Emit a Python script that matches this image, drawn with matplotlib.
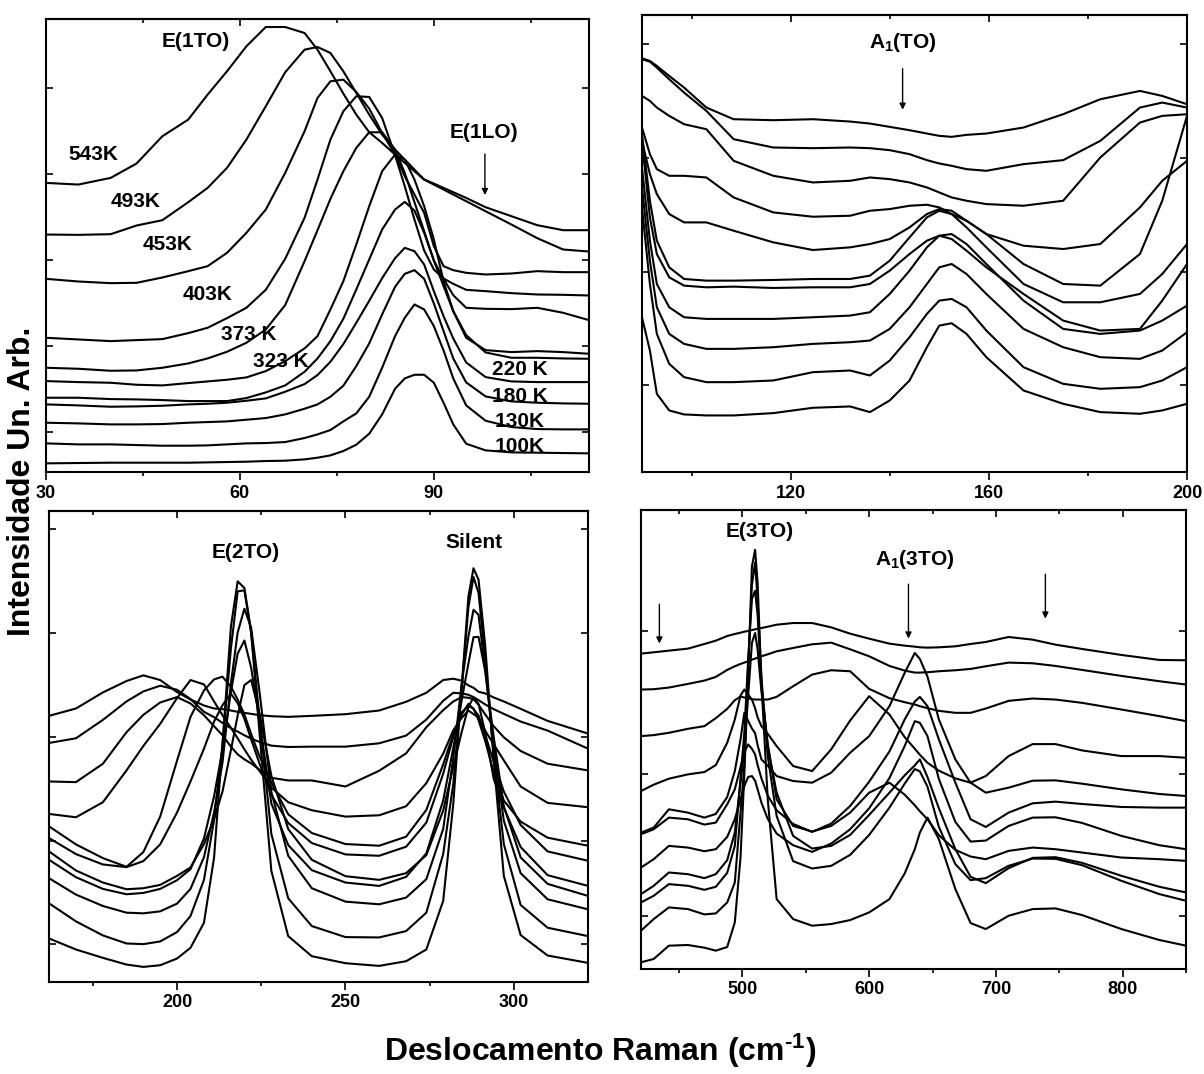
import matplotlib
matplotlib.use('Agg')
import matplotlib.pyplot as plt
from matplotlib.ticker import MultipleLocator, NullFormatter

# Raman shift grids (cm-1) and intensities (arb. units)
tl_shift = [30, 35, 40, 44, 48, 52, 55, 58, 61, 64, 67, 70, 72, 74, 76, 78, 80, 82, 84, 85.5,
            87, 88.5, 90, 91.5, 93, 95, 98, 102, 106, 110, 114]
tl_spectra = [
    [868, 863, 883, 926, 1008, 1058, 1133, 1203, 1278, 1336, 1336, 1318, 1268, 1203, 1136, 1073,
     1020, 988, 953, 928, 903, 878, 866, 853, 840, 823, 795, 768, 741, 726, 726],  # 543K
    [713, 712, 714, 740, 756, 810, 853, 913, 998, 1098, 1200, 1268, 1276, 1258, 1203, 1138,
     1073, 1013, 968, 938, 908, 878, 863, 848, 833, 813, 783, 743, 702, 668, 662],  # 493K
    [580, 572, 567, 568, 584, 603, 618, 658, 718, 788, 898, 1023, 1123, 1173, 1178, 1141,
     1091, 1018, 953, 888, 833, 778, 678, 618, 606, 598, 593, 596, 603, 600, 600],  # 453K
    [403, 398, 393, 396, 399, 417, 433, 462, 493, 547, 640, 763, 878, 998, 1083, 1128,
     1126, 1063, 951, 858, 758, 665, 608, 581, 565, 547, 543, 537, 533, 532, 530],  # 403K
    [313, 310, 304, 305, 313, 326, 341, 361, 388, 428, 501, 633, 726, 820, 903, 973,
     1020, 1020, 968, 898, 810, 723, 635, 580, 531, 493, 490, 489, 493, 478, 456],  # 373K
    [273, 270, 268, 262, 260, 267, 272, 277, 284, 303, 333, 371, 408, 488, 573, 683,
     798, 903, 953, 938, 878, 798, 698, 573, 483, 403, 366, 360, 363, 360, 355],  # 323K
    [223, 223, 219, 218, 216, 213, 213, 213, 222, 239, 260, 301, 341, 393, 460, 548,
     638, 728, 788, 811, 785, 718, 635, 558, 483, 411, 359, 343, 343, 341, 340],  # 220K
    [203, 200, 196, 197, 199, 203, 205, 208, 214, 221, 241, 264, 291, 331, 384, 448,
     514, 582, 642, 673, 663, 623, 543, 468, 401, 329, 285, 272, 270, 270, 270],  # 180K
    [148, 146, 143, 143, 144, 148, 150, 152, 157, 162, 173, 190, 203, 226, 259, 318,
     386, 473, 556, 595, 606, 580, 506, 423, 341, 269, 227, 212, 208, 206, 205],  # 130K
    [86, 83, 83, 81, 79, 79, 80, 83, 86, 87, 90, 102, 113, 126, 152, 176,
     226, 313, 408, 463, 503, 488, 438, 365, 281, 200, 154, 135, 129, 128, 128],  # 100K
    [26, 27, 28, 28, 28, 28, 29, 30, 31, 33, 34, 38, 43, 50, 63, 82,
     115, 173, 250, 281, 292, 292, 268, 208, 143, 85, 65, 59, 58, 57, 56],
]

tr_shift = [90, 91.6, 93, 95.5, 98.5, 103, 108.5, 116.5, 124.5, 132, 136, 140, 144, 147.5,
            150, 152.5, 155.5, 159.5, 167, 175, 182.5, 190.5, 195, 200]
tr_spectra = [
    [1243, 1235, 1220, 1190, 1155, 1095, 1060, 1057, 1060, 1053, 1047, 1037, 1027, 1017,
     1010, 1007, 1013, 1017, 1035, 1075, 1120, 1145, 1130, 1105],
    [1240, 1233, 1215, 1180, 1140, 1085, 1000, 975, 973, 975, 973, 967, 955, 937,
     927, 920, 910, 905, 925, 937, 995, 1095, 1110, 1095],
    [1130, 1115, 1095, 1070, 1045, 1030, 935, 890, 870, 875, 885, 880, 870, 855,
     840, 825, 815, 805, 800, 815, 945, 1050, 1070, 1075],
    [1035, 955, 910, 890, 890, 885, 825, 780, 767, 770, 785, 790, 800, 803,
     795, 775, 755, 715, 680, 670, 685, 795, 875, 935],
    [995, 895, 835, 775, 750, 750, 725, 690, 667, 675, 685, 700, 735, 775,
     790, 785, 755, 715, 625, 565, 560, 655, 815, 1070],
    [1015, 815, 695, 615, 580, 575, 575, 577, 580, 580, 590, 635, 705, 765,
     785, 775, 735, 675, 565, 510, 510, 535, 595, 685],
    [995, 765, 655, 585, 560, 555, 557, 553, 555, 555, 565, 605, 655, 695,
     710, 700, 665, 615, 535, 455, 425, 430, 515, 625],
    [915, 695, 565, 495, 465, 460, 460, 460, 465, 470, 480, 535, 605, 675,
     710, 715, 685, 625, 515, 430, 415, 425, 455, 500],
    [855, 635, 495, 415, 385, 370, 370, 375, 385, 390, 395, 430, 495, 565,
     615, 625, 595, 535, 430, 375, 345, 340, 365, 420],
    [795, 565, 415, 325, 285, 270, 270, 275, 300, 305, 290, 335, 405, 475,
     515, 520, 495, 425, 315, 265, 250, 255, 275, 315],
    [465, 365, 235, 185, 173, 170, 170, 177, 193, 197, 180, 215, 275, 375,
     440, 447, 415, 345, 245, 205, 180, 175, 185, 205],
]

bl_shift = [162, 170, 178, 185, 190, 195, 200, 204, 208, 211, 213.5, 216, 218, 220, 222, 224.5,
            228, 233, 240, 250, 260, 268, 274, 279, 282, 284.5, 286.5, 288, 289.5, 291.5,
            294, 297, 302, 310, 322]
bl_spectra = [
    [795, 817, 865, 899, 916, 902, 866, 844, 826, 817, 815, 811, 807, 804, 801, 797, 794, 792,
     795, 800, 811, 837, 864, 902, 906, 900, 886, 879, 867, 862, 850, 838, 816, 780, 742],
    [714, 728, 783, 838, 868, 885, 873, 845, 807, 791, 774, 758, 748, 737, 727, 717, 706, 702,
     703, 703, 713, 736, 784, 840, 864, 862, 858, 851, 842, 829, 815, 801, 778, 751, 697],
    [599, 597, 652, 746, 798, 835, 851, 832, 797, 764, 737, 703, 680, 665, 653, 634, 610, 602,
     602, 584, 631, 683, 761, 812, 838, 851, 849, 845, 828, 799, 764, 731, 690, 652, 632],
    [502, 492, 537, 632, 705, 771, 848, 902, 889, 838, 797, 759, 728, 695, 664, 630, 581, 537,
     513, 494, 498, 525, 594, 682, 752, 789, 811, 800, 791, 750, 710, 662, 584, 535, 522],
    [465, 411, 370, 344, 388, 494, 661, 792, 871, 904, 912, 882, 844, 799, 741, 674, 596, 501,
     445, 412, 407, 434, 514, 650, 740, 806, 824, 817, 782, 719, 626, 542, 479, 431, 407],
    [430, 382, 351, 343, 361, 411, 506, 599, 697, 778, 827, 861, 833, 786, 725, 652, 559, 475,
     415, 381, 377, 404, 476, 622, 733, 799, 831, 815, 796, 737, 658, 569, 469, 390, 362],
    [390, 333, 297, 277, 280, 290, 317, 342, 412, 487, 569, 693, 796, 887, 902, 802, 616, 457,
     365, 316, 305, 325, 379, 512, 642, 747, 822, 850, 831, 744, 607, 521, 403, 319, 287],
    [365, 313, 278, 262, 266, 278, 304, 337, 429, 555, 694, 867, 981, 1020, 939, 779, 533, 409,
     334, 297, 287, 314, 384, 542, 699, 842, 952, 1030, 1031, 927, 732, 525, 372, 293, 257],
    [310, 261, 227, 207, 205, 211, 234, 278, 373, 507, 655, 892, 1044, 1115, 1058, 866, 568, 377,
     280, 240, 232, 252, 307, 457, 669, 892, 1032, 1112, 1097, 932, 705, 482, 325, 247, 217],
    [235, 181, 139, 115, 113, 121, 149, 197, 305, 484, 709, 997, 1167, 1170, 1042, 787, 442, 250,
     167, 134, 133, 152, 207, 382, 592, 877, 1120, 1210, 1162, 962, 677, 412, 230, 162, 137],
    [130, 97, 72, 52, 45, 50, 70, 102, 177, 372, 712, 1062, 1197, 1177, 1047, 742, 332, 137,
     77, 56, 48, 62, 97, 242, 532, 882, 1152, 1236, 1202, 1002, 662, 317, 140, 79, 57],
]

br_shift = [420, 430, 442, 457, 470, 479, 488, 494, 498.5, 501.5, 504.5, 507.5, 510, 512, 515,
            520, 527, 540, 555, 570, 585, 600, 616, 628, 636, 640, 646, 655, 668, 680, 692,
            710, 729, 747, 768, 799, 829, 850]
br_spectra = [
    [948, 952, 957, 963, 977, 987, 1001, 1007, 1011, 1014, 1016, 1019, 1021, 1023, 1025, 1029,
     1035, 1040, 1040, 1027, 1008, 993, 978, 972, 969, 967, 966, 967, 970, 977, 983, 998, 990,
     975, 962, 944, 929, 928],
    [840, 841, 846, 857, 867, 878, 899, 910, 917, 921, 925, 930, 933, 936, 940, 946, 955, 965,
     976, 981, 961, 940, 911, 897, 891, 891, 892, 895, 898, 902, 910, 921, 919, 911, 899, 881,
     865, 855],
    [700, 703, 710, 722, 730, 754, 782, 808, 819, 816, 814, 811, 810, 810, 810, 810, 818, 850,
     885, 898, 895, 842, 814, 802, 795, 790, 784, 776, 770, 770, 783, 806, 813, 810, 800, 780,
     760, 745],
    [535, 554, 572, 585, 592, 613, 680, 750, 822, 840, 825, 810, 784, 756, 730, 707, 670, 610,
     595, 660, 747, 820, 765, 697, 662, 644, 620, 596, 573, 560, 580, 640, 676, 676, 657, 640,
     640, 635],
    [410, 425, 480, 470, 455, 466, 517, 595, 690, 770, 746, 723, 709, 673, 630, 611, 580, 565,
     560, 590, 650, 700, 790, 890, 950, 932, 879, 750, 630, 560, 530, 545, 566, 567, 557, 540,
     526, 520],
    [405, 420, 455, 450, 434, 440, 495, 540, 607, 651, 675, 662, 645, 613, 573, 521, 477, 436,
     412, 437, 490, 563, 654, 750, 804, 818, 790, 690, 560, 450, 427, 470, 498, 503, 496, 487,
     485, 485],
    [305, 330, 370, 365, 354, 360, 397, 450, 510, 550, 577, 580, 566, 540, 500, 451, 407, 372,
     352, 377, 420, 483, 574, 670, 745, 740, 700, 571, 442, 383, 386, 430, 455, 456, 439, 400,
     372, 360],
    [225, 250, 290, 285, 273, 285, 327, 410, 560, 660, 820, 980, 1010, 960, 835, 677, 510, 430,
     413, 430, 470, 530, 560, 524, 492, 474, 450, 402, 358, 338, 330, 355, 365, 360, 350, 335,
     330, 325],
    [200, 220, 255, 250, 238, 247, 289, 370, 574, 710, 928, 1112, 1137, 1064, 855, 668, 530, 400,
     362, 370, 403, 463, 530, 582, 612, 630, 577, 483, 360, 277, 258, 303, 334, 336, 319, 280,
     247, 230],
    [115, 150, 185, 180, 164, 167, 200, 260, 470, 610, 910, 1155, 1222, 1110, 877, 640, 460, 324,
     302, 310, 343, 403, 485, 557, 601, 594, 548, 427, 315, 267, 273, 310, 332, 331, 312, 265,
     225, 205],
    [20, 30, 70, 72, 64, 55, 66, 140, 335, 585, 877, 1210, 1260, 1160, 860, 510, 210, 150,
     130, 135, 147, 170, 210, 287, 360, 410, 455, 390, 240, 138, 120, 160, 180, 182, 162, 120,
     87, 70],
]

tl_temps = ['543K', '493K', '453K', '403K', '373 K', '323 K']
tl_temps_right = ['220 K', '180 K', '130K', '100K']


def setup_fonts():
    plt.rcParams['font.family'] = ['Liberation Sans', 'DejaVu Sans']
    plt.rcParams['font.weight'] = 'bold'
    plt.rcParams['mathtext.fontset'] = 'custom'
    plt.rcParams['mathtext.rm'] = 'Liberation Sans:bold'
    plt.rcParams['mathtext.bf'] = 'Liberation Sans:bold'
    plt.rcParams['mathtext.default'] = 'rm'


def draw_panel(ax, shift, spectra, xlim, ylim, xmajor, xminor, ybase, yoffset):
    # every spectrum as a plain black line
    for counts in spectra:
        ax.plot(shift, counts, color='black', lw=1.5, solid_joinstyle='round')

    ax.set_xlim(*xlim)
    ax.set_ylim(*ylim)
    ax.xaxis.set_major_locator(MultipleLocator(xmajor))
    ax.xaxis.set_minor_locator(MultipleLocator(xminor))
    ax.yaxis.set_major_locator(MultipleLocator(ybase, offset=yoffset))
    ax.yaxis.set_major_formatter(NullFormatter())

    # y ticks point inwards on both sides, x ticks point out at the bottom
    ax.tick_params(axis='y', which='both', direction='in', left=True, right=True,
                   length=5, width=1.2)
    ax.tick_params(axis='x', which='both', direction='out', top=False, width=1.2)
    ax.tick_params(axis='x', which='major', length=6, labelsize=13, pad=3)
    ax.tick_params(axis='x', which='minor', length=3)

    # inward ticks on the top edge
    top = ax.secondary_xaxis('top')
    top.xaxis.set_major_locator(MultipleLocator(xmajor))
    top.xaxis.set_minor_locator(MultipleLocator(xminor))
    top.tick_params(which='both', direction='in', labeltop=False, width=1.2)
    top.tick_params(which='major', length=5)
    top.tick_params(which='minor', length=3)
    top.spines['top'].set_linewidth(1.5)

    for spine in ax.spines.values():
        spine.set_linewidth(1.5)


def arrow(ax, x, y_from, y_to):
    ax.annotate('', xy=(x, y_to), xytext=(x, y_from),
                arrowprops=dict(arrowstyle='-|>', color='black', lw=1.0, mutation_scale=9))


def make_figure():
    setup_fonts()
    fig = plt.figure(figsize=(12.04, 10.74), dpi=100)

    ax_tl = fig.add_axes([0.0382, 0.5605, 0.4510, 0.4218])
    ax_tr = fig.add_axes([0.5332, 0.5605, 0.4527, 0.4255])
    ax_bl = fig.add_axes([0.0407, 0.0857, 0.4477, 0.4385])
    ax_br = fig.add_axes([0.5324, 0.0978, 0.4527, 0.4274])

    # E(1TO) / E(1LO) region
    draw_panel(ax_tl, tl_shift, tl_spectra, (30, 114), (0, 1360), 30, 15, 258, 120)
    ax_tl.text(53.2, 1293, 'E(1TO)', ha='center', va='center', fontsize=15)
    ax_tl.text(97.8, 1018, 'E(1LO)', ha='center', va='center', fontsize=15)
    arrow(ax_tl, 97.9, 963, 823)
    left_pos = [(37.4, 953), (43.9, 813), (48.8, 683), (55.0, 533), (61.3, 413), (66.4, 333)]
    for label, (x, y) in zip(tl_temps, left_pos):
        ax_tl.text(x, y, label, ha='center', va='center', fontsize=15)
    for label, y in zip(tl_temps_right, [308, 228, 153, 78]):
        ax_tl.text(103.3, y, label, ha='center', va='center', fontsize=15)

    # A1(TO) region
    draw_panel(ax_tr, tr_shift, tr_spectra, (90, 200), (0, 1373), 40, 20, 341.7, 260)
    ax_tr.text(142.6, 1290, r'A$_1$(TO)', ha='center', va='center', fontsize=15)
    arrow(ax_tr, 142.6, 1220, 1080)

    # E(2TO) and silent mode
    draw_panel(ax_bl, bl_shift, bl_spectra, (162, 322), (0, 1407), 50, 25, 310, 112)
    ax_bl.text(220.5, 1282, 'E(2TO)', ha='center', va='center', fontsize=15)
    ax_bl.text(288.1, 1312, 'Silent', ha='center', va='center', fontsize=15)

    # E(3TO) and A1(3TO)
    draw_panel(ax_br, br_shift, br_spectra, (420, 850), (0, 1380), 100, 50, 427.5, 160)
    ax_br.text(513.7, 1315, 'E(3TO)', ha='center', va='center', fontsize=15)
    ax_br.text(635.7, 1230, r'A$_1$(3TO)', ha='center', va='center', fontsize=15)
    arrow(ax_br, 434.5, 1105, 970)
    arrow(ax_br, 631, 1165, 985)
    arrow(ax_br, 739, 1195, 1045)

    fig.text(0.018, 0.552, 'Intensidade Un. Arb.', rotation=90, ha='center', va='center',
             fontsize=23)
    fig.text(0.4985, 0.022, r'Deslocamento Raman (cm$^{\text{-}1}$)', ha='center',
             va='center', fontsize=23)

    fig.savefig('out.png', dpi=100)


if __name__ == "__main__":
    make_figure()
